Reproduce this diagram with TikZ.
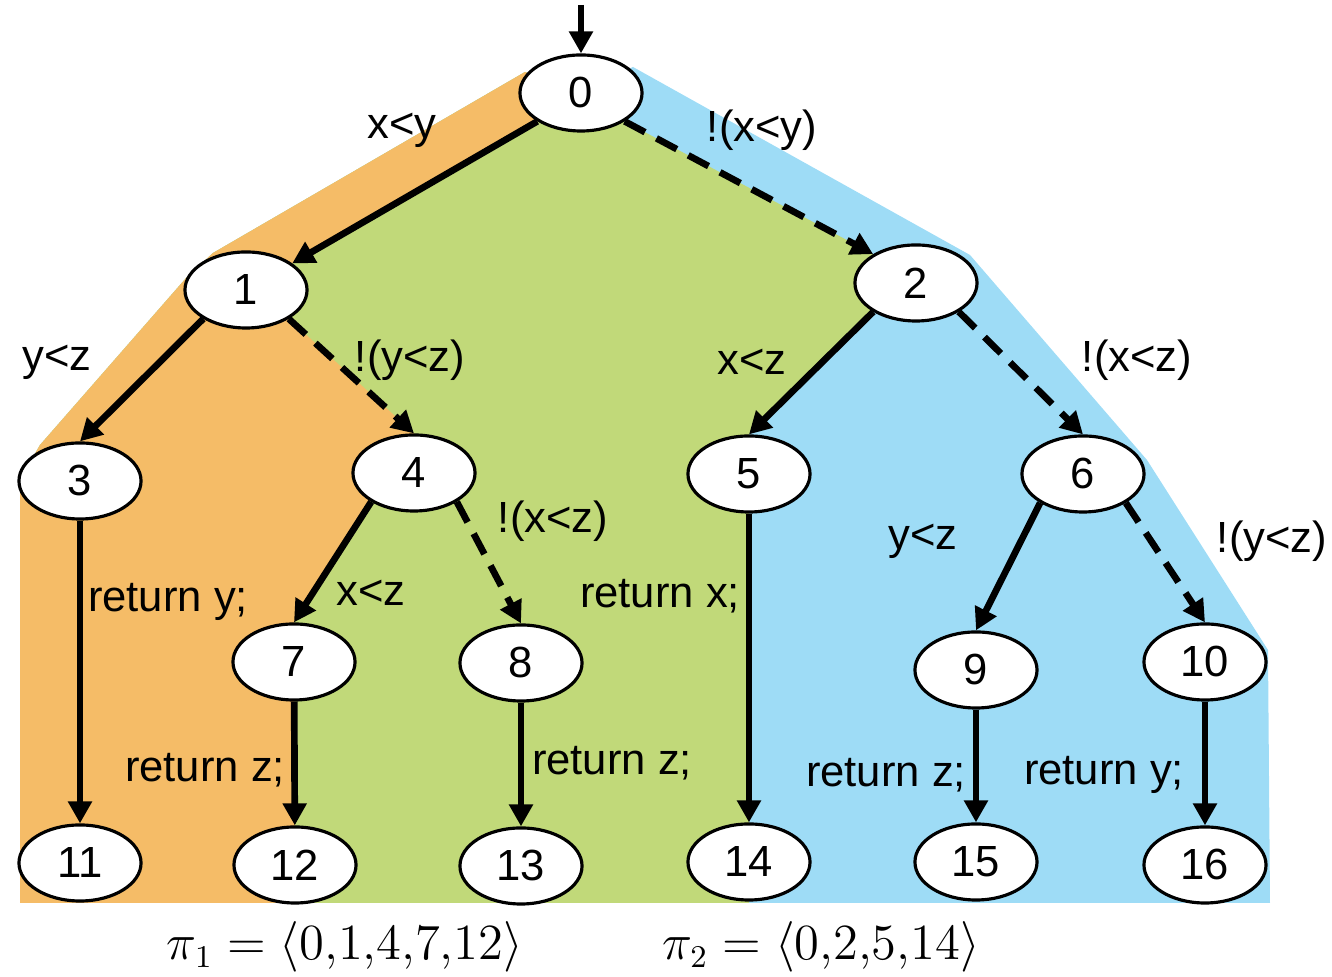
\documentclass[tikz,border=0pt]{standalone}
\usepackage{amsmath}
\usepackage{fontspec}
\setmainfont{Liberation Sans}
\usepackage{tikz}
\usetikzlibrary{arrows.meta,shapes.geometric,backgrounds}
\definecolor{pathorange}{HTML}{F5BC67}
\definecolor{pathgreen}{HTML}{C1D979}
\definecolor{pathblue}{HTML}{9EDCF6}
\tikzset{
  st/.style      ={ellipse,draw,line width=0.9pt,fill=white,minimum width=1.22cm,minimum height=0.76cm,inner sep=0pt,font=\fontsize{12.4}{14}\selectfont},
  lbl/.style     ={inner sep=1pt,font=\fontsize{12.4}{14}\selectfont},
  taken/.style   ={-{Triangle[length=0.22cm,width=0.23cm]},line width=1.9pt},
  nottaken/.style={taken,dash pattern=on 0.23cm off 0.13cm},
  pathlbl/.style ={inner sep=0pt,font=\fontsize{13.5}{16}\selectfont},
}
\begin{document}
\begin{tikzpicture}[x=0.01cm,y=-0.01cm]
  \useasboundingbox (0,0) rectangle (1332,977);
  % states of the execution tree
  \foreach \n/\x/\y in {0/581/93, 1/246/290, 2/916/283, 3/80/481, 4/414/473, 5/749/474, 6/1083/474,
      7/294/662, 8/521/663, 9/976/670, 10/1205/662,
      11/80/863, 12/295/865, 13/521/866, 14/749/862, 15/976/862, 16/1205/865}
    \node[st] (n\n) at (\x,\y) {\n};
  \coordinate (start) at (581,5);
  \draw[taken] (start) -- (n0);
  \draw[taken] (n0.213) -- (n1.30);
  \draw[nottaken] (n0.327) -- (n2.146);
  \foreach \a/\b in {1/3, 2/5, 4/7, 6/9}
    \draw[taken] (n\a.214) -- (n\b.north);
  \foreach \a/\b in {1/4, 2/6, 4/8, 6/10}
    \draw[nottaken] (n\a.326) -- (n\b.north);
  \foreach \a/\b in {3/11, 7/12, 8/13, 5/14, 9/15, 10/16}
    \draw[taken] (n\a) -- (n\b);
  % branch conditions and returns
  \node[lbl] (c01) at (402,130) {x<y};
  \node[lbl] (c02) at (762,130) {!(x<y)};
  \node[lbl] (c13) at (57,362) {y<z};
  \node[lbl] (c14) at (410,360) {!(y<z)};
  \node[lbl] (c25) at (752,362) {x<z};
  \node[lbl] (c26) at (1137,360) {!(x<z)};
  \node[lbl] (c48) at (553,521) {!(x<z)};
  \node[lbl] (c47) at (371,593) {x<z};
  \node[lbl] (c69) at (923,541) {y<z};
  \node[lbl] (c610) at (1272,541) {!(y<z)};
  \node[lbl] (r3) at (168,602) {return y;};
  \node[lbl] (r7) at (205,770) {return z;};
  \node[lbl] (r8) at (612,763) {return z;};
  \node[lbl] (r5) at (660,596) {return x;};
  \node[lbl] (r9) at (886,775) {return z;};
  \node[lbl] (r10) at (1104,775) {return y;};
  % paths
  \node[pathlbl,anchor=base] (pi1) at (345,960) {$\pi_1 = \langle 0{,}1{,}4{,}7{,}12\rangle$};
  \node[pathlbl,anchor=base] (pi2) at (821,960) {$\pi_2 = \langle 0{,}2{,}5{,}14\rangle$};
  % coloured regions
  \begin{scope}[on background layer]
    \coordinate (hA) at (20,903);  \coordinate (hB) at (20,480);  \coordinate (hC) at (40,445);
    \coordinate (hD) at (187,277); \coordinate (hE) at (213,253); \coordinate (hF) at (525,72);
    \coordinate (hG) at (633,67);  \coordinate (hH) at (970,255); \coordinate (hI) at (1147,460);
    \coordinate (hJ) at (1268,650); \coordinate (hK) at (1270,903);
    \fill[pathblue] (hA) -- (hB) -- (hC) -- (hD) -- (hE) -- (hF) -- (n0.center) -- (hG) -- (hH) -- (hI) -- (hJ) -- (hK) -- cycle;
    \fill[pathgreen] (n0.center) -- (n0.327) -- (n2.146) -- (n2.214) -- (n5.north) -- (n5.south) -- (n14.north)
      -- (n14.center |- hA) -- (hA) -- (hB) -- (hC) -- (hD) -- (hE) -- (hF) -- cycle;
    \fill[pathorange] (n0.center) -- (n0.213) -- (n1.30) -- (n1.326) -- (n4.north) -- (n4.214) -- (n7.north)
      -- (n7.south) -- (n12.north) -- (n12.center |- hA) -- (hA) -- (hB) -- (hC) -- (hD) -- (hE) -- (hF) -- cycle;
  \end{scope}
\end{tikzpicture}
\end{document}
